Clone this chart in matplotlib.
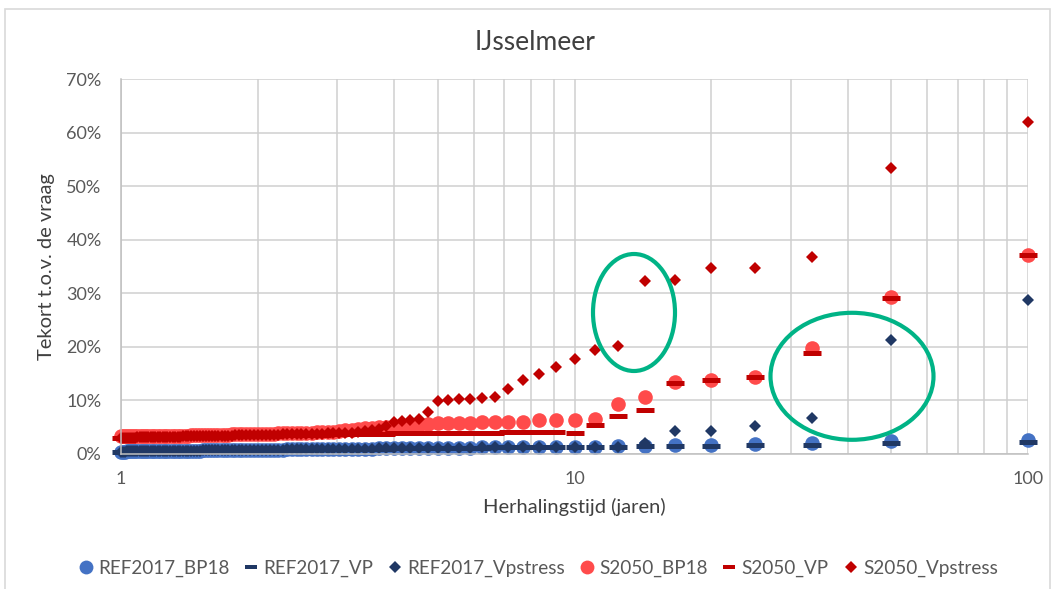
import matplotlib
matplotlib.use("Agg")
import matplotlib.pyplot as plt
from matplotlib.lines import Line2D
from matplotlib.patches import Ellipse, Rectangle
from matplotlib.ticker import PercentFormatter, LogLocator, NullFormatter, FixedLocator, FixedFormatter

plt.rcParams['font.family'] = ['Lato', 'DejaVu Sans']

# Return period (years) per rank, 100 years of simulation
return_period = [
    100.0, 50.0, 33.333, 25.0, 20.0, 16.667, 14.286, 12.5, 11.111, 10.0,
    9.091, 8.333, 7.692, 7.143, 6.667, 6.25, 5.882, 5.556, 5.263, 5.0,
    4.762, 4.545, 4.348, 4.167, 4.0, 3.846, 3.704, 3.571, 3.448, 3.333,
    3.226, 3.125, 3.030, 2.941, 2.857, 2.778, 2.703, 2.632, 2.564, 2.5,
    2.439, 2.381, 2.326, 2.273, 2.222, 2.174, 2.128, 2.083, 2.041, 2.0,
    1.961, 1.923, 1.887, 1.852, 1.818, 1.786, 1.754, 1.724, 1.695, 1.667,
    1.639, 1.613, 1.587, 1.563, 1.538, 1.515, 1.493, 1.471, 1.449, 1.429,
    1.408, 1.389, 1.370, 1.351, 1.333, 1.316, 1.299, 1.282, 1.266, 1.25,
    1.235, 1.220, 1.205, 1.190, 1.176, 1.163, 1.149, 1.136, 1.124, 1.111,
    1.099, 1.087, 1.075, 1.064, 1.053, 1.042, 1.031, 1.020, 1.010, 1.0,
]

# Shortage as % of demand, same rank order
ref2017_bp18 = [
    2.6, 2.4, 2.1, 1.8, 1.7, 1.6, 1.5, 1.5, 1.4, 1.4,
    1.4, 1.4, 1.3, 1.3, 1.3, 1.3, 1.2, 1.2, 1.2, 1.2,
    1.2, 1.1, 1.1, 1.1, 1.1, 1.1, 1.1, 1.0, 1.0, 1.0,
    1.0, 1.0, 1.0, 1.0, 0.9, 0.9, 0.9, 0.9, 0.9, 0.9,
    0.9, 0.9, 0.9, 0.8, 0.8, 0.8, 0.8, 0.8, 0.8, 0.8,
    0.8, 0.8, 0.8, 0.7, 0.7, 0.7, 0.7, 0.7, 0.7, 0.7,
    0.7, 0.7, 0.7, 0.7, 0.7, 0.7, 0.6, 0.6, 0.6, 0.6,
    0.6, 0.6, 0.6, 0.6, 0.6, 0.6, 0.6, 0.6, 0.6, 0.6,
    0.6, 0.6, 0.6, 0.5, 0.5, 0.5, 0.5, 0.5, 0.5, 0.5,
    0.5, 0.5, 0.5, 0.5, 0.5, 0.5, 0.5, 0.4, 0.4, 0.4,
]
ref2017_vp = [
    2.2, 2.1, 1.7, 1.6, 1.5, 1.5, 1.5, 1.4, 1.4, 1.4,
    1.4, 1.3, 1.3, 1.3, 1.3, 1.2, 1.2, 1.2, 1.2, 1.2,
    1.1, 1.1, 1.1, 1.1, 1.1, 1.0, 1.0, 1.0, 1.0, 1.0,
    1.0, 1.0, 0.9, 0.9, 0.9, 0.9, 0.9, 0.9, 0.9, 0.8,
    0.8, 0.8, 0.8, 0.8, 0.8, 0.8, 0.8, 0.8, 0.7, 0.7,
    0.7, 0.7, 0.7, 0.7, 0.7, 0.7, 0.7, 0.7, 0.6, 0.6,
    0.6, 0.6, 0.6, 0.6, 0.6, 0.6, 0.6, 0.6, 0.6, 0.6,
    0.6, 0.6, 0.5, 0.5, 0.5, 0.5, 0.5, 0.5, 0.5, 0.5,
    0.5, 0.5, 0.5, 0.5, 0.5, 0.5, 0.5, 0.5, 0.5, 0.5,
    0.4, 0.4, 0.4, 0.4, 0.4, 0.4, 0.4, 0.4, 0.4, 0.4,
]
ref2017_vpstress = [
    28.8, 21.3, 6.8, 5.2, 4.3, 4.3, 2.1, 1.4, 1.4, 1.4,
    1.4, 1.4, 1.3, 1.3, 1.3, 1.3, 1.2, 1.2, 1.2, 1.2,
    1.2, 1.1, 1.1, 1.1, 1.1, 1.1, 1.1, 1.0, 1.0, 1.0,
    1.0, 1.0, 1.0, 1.0, 0.9, 0.9, 0.9, 0.9, 0.9, 0.9,
    0.9, 0.9, 0.9, 0.8, 0.8, 0.8, 0.8, 0.8, 0.8, 0.8,
    0.8, 0.8, 0.8, 0.7, 0.7, 0.7, 0.7, 0.7, 0.7, 0.7,
    0.7, 0.7, 0.7, 0.7, 0.7, 0.7, 0.6, 0.6, 0.6, 0.6,
    0.6, 0.6, 0.6, 0.6, 0.6, 0.6, 0.6, 0.6, 0.6, 0.6,
    0.6, 0.6, 0.6, 0.5, 0.5, 0.5, 0.5, 0.5, 0.5, 0.5,
    0.5, 0.5, 0.5, 0.5, 0.5, 0.5, 0.5, 0.4, 0.4, 0.4,
]
s2050_bp18 = [
    37.1, 29.3, 19.7, 14.4, 13.9, 13.5, 10.7, 9.4, 6.6, 6.4,
    6.4, 6.4, 6.0, 6.0, 5.9, 5.9, 5.8, 5.8, 5.7, 5.7,
    5.6, 5.5, 5.4, 5.3, 5.2, 5.1, 5.0, 4.9, 4.8, 4.7,
    4.5, 4.4, 4.3, 4.2, 4.2, 4.1, 4.1, 4.0, 4.0, 4.0,
    3.9, 3.9, 3.9, 3.9, 3.9, 3.8, 3.8, 3.8, 3.8, 3.8,
    3.8, 3.8, 3.7, 3.7, 3.7, 3.7, 3.7, 3.6, 3.6, 3.6,
    3.6, 3.6, 3.6, 3.5, 3.5, 3.5, 3.5, 3.5, 3.5, 3.5,
    3.4, 3.4, 3.4, 3.4, 3.4, 3.4, 3.4, 3.4, 3.4, 3.4,
    3.4, 3.4, 3.3, 3.3, 3.3, 3.3, 3.3, 3.3, 3.3, 3.3,
    3.3, 3.3, 3.3, 3.3, 3.3, 3.3, 3.3, 3.3, 3.3, 3.3,
]
s2050_vp = [
    37.1, 29.2, 18.9, 14.4, 13.8, 13.3, 8.2, 7.1, 5.4, 4.0,
    4.1, 4.1, 4.1, 4.1, 3.9, 3.9, 3.9, 3.9, 3.9, 3.9,
    3.9, 3.9, 3.9, 3.9, 3.9, 3.8, 3.8, 3.8, 3.8, 3.8,
    3.8, 3.7, 3.7, 3.7, 3.7, 3.6, 3.6, 3.6, 3.6, 3.6,
    3.5, 3.5, 3.5, 3.5, 3.5, 3.4, 3.4, 3.4, 3.4, 3.4,
    3.4, 3.4, 3.4, 3.3, 3.3, 3.3, 3.3, 3.3, 3.3, 3.3,
    3.2, 3.2, 3.2, 3.2, 3.2, 3.2, 3.2, 3.2, 3.2, 3.2,
    3.2, 3.2, 3.1, 3.1, 3.1, 3.1, 3.1, 3.1, 3.1, 3.1,
    3.0, 3.0, 3.0, 3.0, 3.0, 3.0, 3.0, 3.0, 3.0, 3.0,
    3.0, 3.0, 3.0, 3.0, 2.9, 2.9, 2.9, 2.9, 2.9, 2.9,
]
s2050_vpstress = [
    61.9, 53.4, 36.7, 34.8, 34.8, 32.4, 32.3, 20.1, 19.5, 17.8,
    16.2, 14.9, 13.9, 12.1, 10.7, 10.4, 10.3, 10.2, 10.1, 9.9,
    7.8, 6.5, 6.3, 6.2, 6.0, 5.2, 4.7, 4.4, 4.3, 4.2,
    4.0, 4.0, 3.9, 3.9, 3.9, 3.8, 3.8, 3.8, 3.8, 3.7,
    3.7, 3.7, 3.7, 3.7, 3.6, 3.6, 3.6, 3.6, 3.6, 3.6,
    3.5, 3.5, 3.5, 3.5, 3.5, 3.5, 3.4, 3.4, 3.4, 3.4,
    3.4, 3.4, 3.4, 3.4, 3.3, 3.3, 3.3, 3.3, 3.3, 3.3,
    3.3, 3.3, 3.3, 3.2, 3.2, 3.2, 3.2, 3.2, 3.2, 3.2,
    3.2, 3.2, 3.2, 3.1, 3.1, 3.1, 3.1, 3.1, 3.1, 3.1,
    3.1, 3.1, 3.0, 3.0, 3.0, 3.0, 3.0, 3.0, 3.0, 3.0,
]

series_names = ["REF2017_BP18", "REF2017_VP", "REF2017_Vpstress",
                "S2050_BP18", "S2050_VP", "S2050_Vpstress"]
series_values = [ref2017_bp18, ref2017_vp, ref2017_vpstress,
                 s2050_bp18, s2050_vp, s2050_vpstress]

# marker, colour, size, edge width for each series
styles = [
    dict(marker='o', color='#4472C4', ms=10.5, mew=0),
    dict(marker='_', color='#203864', ms=12.5, mew=3.6),
    dict(marker='D', color='#203864', ms=6.5, mew=0),
    dict(marker='o', color='#FF4B4B', ms=10.5, mew=0),
    dict(marker='_', color='#C00000', ms=12.5, mew=3.6),
    dict(marker='D', color='#C00000', ms=6.5, mew=0),
]

text_col = '#595959'
grid_col = '#CFCFCF'

fig = plt.figure(figsize=(10.56, 5.89), dpi=100)
ax = fig.add_axes([121 / 1056, 1 - 454 / 589, 907 / 1056, 375 / 589])

for name, vals, st in zip(series_names, series_values, styles):
    ax.plot(return_period, vals, linestyle='none', marker=st['marker'],
            color=st['color'], markersize=st['ms'], markeredgewidth=st['mew'],
            label=name, clip_on=False)

ax.set_xscale('log')
ax.set_xlim(1, 100)
ax.set_ylim(0, 70)
ax.set_yticks(range(0, 71, 10))
ax.yaxis.set_major_formatter(PercentFormatter(100, decimals=0))
ax.xaxis.set_major_locator(FixedLocator([1, 10, 100]))
ax.xaxis.set_major_formatter(FixedFormatter(['1', '10', '100']))
ax.xaxis.set_minor_locator(LogLocator(base=10, subs=range(2, 10)))
ax.xaxis.set_minor_formatter(NullFormatter())

ax.grid(True, which='both', axis='x', color=grid_col, lw=1.1)
ax.grid(True, which='major', axis='y', color=grid_col, lw=1.1)
ax.set_axisbelow(True)
for side in ['top', 'right']:
    ax.spines[side].set_visible(False)
for side in ['left', 'bottom']:
    ax.spines[side].set_color('#BFBFBF')
    ax.spines[side].set_linewidth(1.1)

ax.tick_params(axis='both', which='both', length=0, labelcolor=text_col, labelsize=13)
ax.tick_params(axis='y', pad=14)
ax.tick_params(axis='x', pad=12)

ax.set_xlabel('Herhalingstijd (jaren)', color='#404040', fontsize=14.5, labelpad=8)
ax.set_ylabel('Tekort t.o.v. de vraag', color='#404040', fontsize=14.5, labelpad=8)
fig.text(535 / 1056, 1 - 42 / 589, 'IJsselmeer', ha='center', va='center',
         fontsize=19, color='#404040')

# highlight ellipses
ell_col = '#00B386'
for (cx, cy, w, h) in [(634, 312.5, 82, 117), (852, 376.3, 163, 127)]:
    ax.add_patch(Ellipse(((cx - 121) / 907, (454 - cy) / 375), w / 907, h / 375,
                         transform=ax.transAxes, fill=False, ec=ell_col, lw=3.0,
                         clip_on=False, zorder=5))

# legend
handles = [Line2D([], [], linestyle='none', marker=st['marker'], color=st['color'],
                  markersize=st['ms'] * 0.95, markeredgewidth=st['mew'] * 0.8)
           for st in styles]
handles[1].set_markersize(9)
handles[4].set_markersize(9)
leg = fig.legend(handles, series_names, ncol=6, loc='center',
                 bbox_to_anchor=(538 / 1056, 1 - 568 / 589), frameon=False,
                 handlelength=0.8, handletextpad=0.25, columnspacing=0.75,
                 fontsize=13.6)
for t in leg.get_texts():
    t.set_color(text_col)

# chart-area border
fig.patches.append(Rectangle((5 / 1056, -0.05), 1045 / 1056, 1.05 - 9 / 589,
                             transform=fig.transFigure, fill=False,
                             ec='#D9D9D9', lw=1.2))

fig.savefig('out.png', dpi=100)
